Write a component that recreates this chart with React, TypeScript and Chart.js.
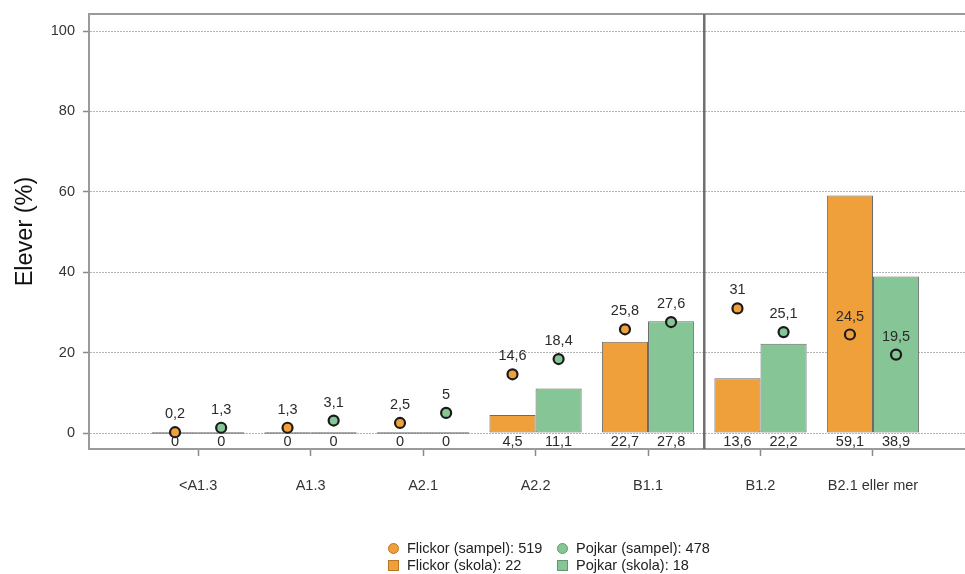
import React, { useEffect, useRef } from "react";
import { Chart, registerables } from "chart.js";

Chart.register(...registerables);

const categories = ["<A1.3", "A1.3", "A2.1", "A2.2", "B1.1", "B1.2", "B2.1 eller mer"];
const flickorSkola = [0, 0, 0, 4.5, 22.7, 13.6, 59.1];
const pojkarSkola = [0, 0, 0, 11.1, 27.8, 22.2, 38.9];
const flickorSampel = [0.2, 1.3, 2.5, 14.6, 25.8, 31, 24.5];
const pojkarSampel = [1.3, 3.1, 5, 18.4, 27.6, 25.1, 19.5];
const yTicks = [0, 20, 40, 60, 80, 100];
const legendItems = [
  { label: "Flickor (sampel): 519", kind: "circle", color: "#F0A03A", border: "#B97522" },
  { label: "Pojkar (sampel): 478", kind: "circle", color: "#86C696", border: "#5E9A6E" },
  { label: "Flickor (skola): 22", kind: "square", color: "#F0A03A", border: "#B97522" },
  { label: "Pojkar (skola): 18", kind: "square", color: "#86C696", border: "#5E9A6E" },
];
const separatorBetween = 4.5;

const ORANGE = "#F0A03A";
const GREEN = "#86C696";
const FONT = "'Liberation Sans', Arial, sans-serif";

const fmt = (v: number) => String(v).replace(".", ",");

const labelPlugin = {
  id: "labelsAndFrame",
  beforeDatasetsDraw(chart: any) {
    const { ctx, chartArea, scales } = chart;
    ctx.save();
    ctx.strokeStyle = "#9a9a9a";
    ctx.lineWidth = 2;
    ctx.beginPath();
    ctx.moveTo(chartArea.left, chartArea.top);
    ctx.lineTo(chartArea.right, chartArea.top);
    ctx.stroke();
    const sx = scales.x.getPixelForValue(separatorBetween);
    ctx.strokeStyle = "#6f6f6f";
    ctx.lineWidth = 2.5;
    ctx.beginPath();
    ctx.moveTo(sx, chartArea.top);
    ctx.lineTo(sx, chartArea.bottom);
    ctx.stroke();
    ctx.restore();
  },
  afterDatasetsDraw(chart: any) {
    const { ctx, scales } = chart;
    ctx.save();
    ctx.font = `14.5px ${FONT}`;
    ctx.fillStyle = "#2a2a2a";
    ctx.textAlign = "center";
    ctx.textBaseline = "middle";
    const zeroY = scales.y.getPixelForValue(0);
    [0, 1].forEach((di) => {
      const meta = chart.getDatasetMeta(di);
      const data = chart.data.datasets[di].data as any[];
      meta.data.forEach((el: any, i: number) => {
        ctx.fillText(fmt(data[i].y), el.x, zeroY + 9);
      });
    });
    [2, 3].forEach((di) => {
      const meta = chart.getDatasetMeta(di);
      const data = chart.data.datasets[di].data as any[];
      meta.data.forEach((el: any, i: number) => {
        ctx.fillText(fmt(data[i].y), el.x, el.y - 18);
      });
    });
    ctx.restore();
  },
};

export default function App() {
  const ref = useRef<HTMLCanvasElement | null>(null);

  useEffect(() => {
    if (!ref.current) return;
    const chart = new Chart(ref.current, {
      type: "bar",
      data: {
        datasets: [
          {
            type: "bar",
            label: "Flickor (skola)",
            data: flickorSkola.map((v, i) => ({ x: i, y: v })),
            backgroundColor: ORANGE,
            borderColor: "#6a6a6a",
            borderWidth: 1,
            borderSkipped: false,
            minBarLength: 1.5,
            categoryPercentage: 0.82,
            barPercentage: 1,
            order: 2,
          } as any,
          {
            type: "bar",
            label: "Pojkar (skola)",
            data: pojkarSkola.map((v, i) => ({ x: i, y: v })),
            backgroundColor: GREEN,
            borderColor: "#6a6a6a",
            borderWidth: 1,
            borderSkipped: false,
            minBarLength: 1.5,
            categoryPercentage: 0.82,
            barPercentage: 1,
            order: 2,
          } as any,
          {
            type: "scatter",
            label: "Flickor (sampel)",
            data: flickorSampel.map((v, i) => ({ x: i - 0.205, y: v })),
            backgroundColor: ORANGE,
            borderColor: "#1a1a1a",
            borderWidth: 2.2,
            pointRadius: 5,
            order: 1,
          } as any,
          {
            type: "scatter",
            label: "Pojkar (sampel)",
            data: pojkarSampel.map((v, i) => ({ x: i + 0.205, y: v })),
            backgroundColor: GREEN,
            borderColor: "#1a1a1a",
            borderWidth: 2.2,
            pointRadius: 5,
            order: 1,
          } as any,
        ],
      },
      options: {
        responsive: false,
        animation: false,
        layout: { autoPadding: false, padding: { top: 14, left: 0, right: 0, bottom: 0 } },
        plugins: {
          legend: { display: false },
          tooltip: { enabled: false },
        },
        scales: {
          x: {
            type: "linear",
            min: -0.97,
            max: 6.818,
            offset: false,
            afterBuildTicks: (scale: any) => {
              scale.ticks = categories.map((_, i) => ({ value: i }));
            },
            afterFit: (scale: any) => {
              scale.height = 125;
              scale.paddingLeft = 0;
              scale.paddingRight = 0;
            },
            ticks: {
              autoSkip: false,
              maxRotation: 0,
              padding: 21,
              color: "#333",
              font: { family: FONT, size: 14.5 },
              callback: (v: any) => categories[Math.round(Number(v))] ?? "",
            },
            grid: {
              drawOnChartArea: false,
              drawTicks: true,
              tickLength: 7,
              tickColor: "#8a8a8a",
              tickWidth: 1.5,
              offset: false,
            },
            border: { display: true, color: "#9a9a9a", width: 2 },
          },
          y: {
            type: "linear",
            min: -3.98,
            max: 104.23,
            afterBuildTicks: (scale: any) => {
              scale.ticks = yTicks.map((v) => ({ value: v }));
            },
            afterFit: (scale: any) => {
              scale.width = 89;
              scale.paddingTop = 0;
              scale.paddingBottom = 0;
            },
            ticks: {
              padding: 8,
              color: "#333",
              font: { family: FONT, size: 14.5 },
              callback: (v: any) => String(v),
            },
            grid: {
              color: "#b5b5b5",
              lineWidth: 1,
              drawTicks: true,
              tickLength: 6,
              tickColor: "#8a8a8a",
              tickWidth: 1.5,
              tickBorderDash: [],
            },
            border: { display: true, color: "#9a9a9a", width: 2, dash: [2, 1] },
            title: {
              display: true,
              text: "Elever (%)",
              color: "#111",
              font: { family: FONT, size: 23.5 },
              padding: { top: 11, bottom: 0 },
            },
          },
        },
      },
      plugins: [labelPlugin],
    });
    return () => chart.destroy();
  }, []);

  const colLeft = [388, 557];
  const rowTop = [548, 565];

  return (
    <div style={{ position: "fixed", left: 0, top: 0, width: 965, height: 574, background: "#fff", overflow: "hidden" }}>
      <canvas ref={ref} width={965} height={574} style={{ width: 965, height: 574, display: "block" }} />
      {legendItems.map((it, idx) => {
        const col = idx % 2;
        const row = Math.floor(idx / 2);
        return (
          <div
            key={it.label}
            style={{
              position: "absolute",
              left: colLeft[col],
              top: rowTop[row] - 9,
              height: 18,
              display: "flex",
              alignItems: "center",
              fontFamily: FONT,
              fontSize: 14.5,
              color: "#222",
              whiteSpace: "nowrap",
            }}
          >
            <span
              style={{
                display: "inline-block",
                width: 9,
                height: 9,
                borderRadius: it.kind === "circle" ? "50%" : 0,
                background: it.color,
                border: `1px solid ${it.border}`,
                marginRight: 8,
              }}
            />
            <span>{it.label}</span>
          </div>
        );
      })}
    </div>
  );
}
